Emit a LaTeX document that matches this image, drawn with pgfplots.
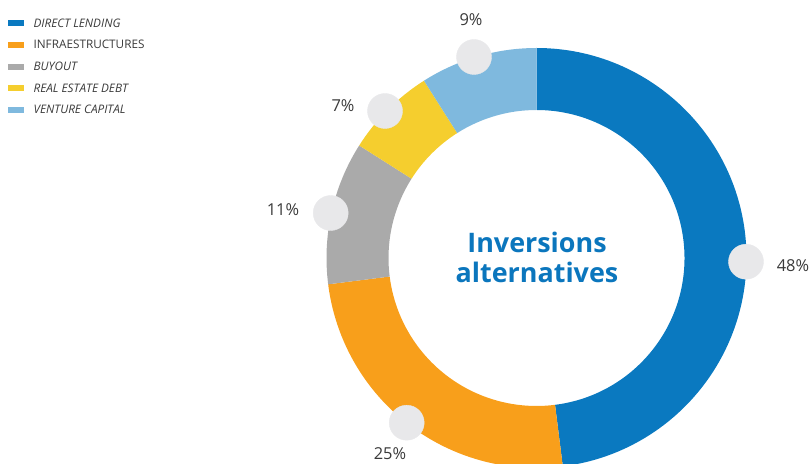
\documentclass[border=0pt]{standalone}
\usepackage{pgfplots}
\pgfplotsset{compat=1.18}
\usetikzlibrary{calc}
\usepackage{fontspec}
\setmainfont{Open Sans}

\definecolor{cDL}{HTML}{0A79C0}
\definecolor{cIN}{HTML}{F89F1B}
\definecolor{cBO}{HTML}{AAAAAA}
\definecolor{cRE}{HTML}{F5CE2E}
\definecolor{cVC}{HTML}{7FB9DE}
\definecolor{dotgray}{HTML}{E8E8EA}
\definecolor{titleblue}{HTML}{0B76BD}
\definecolor{labgray}{HTML}{3A3A3A}

\begin{document}
\begin{tikzpicture}
\useasboundingbox (0,0) rectangle (811bp,464bp);
\clip (0,0) rectangle (811bp,464bp);
\begin{axis}[
    at={(0,0)}, anchor=south west,
    width=811bp, height=464bp, scale only axis,
    xmin=0, xmax=811, ymin=0, ymax=464,
    hide axis, clip=false,
    legend style={at={(axis cs:8,445.5)}, anchor=north west, draw=none, fill=none,
        inner sep=0pt, row sep=13.2bp, text=labgray,
        font=\fontsize{11.8}{13}\selectfont,
        nodes={inner sep=0pt, text height=8.5bp, text depth=0bp},
        /tikz/every odd column/.append style={column sep=10bp}},
    legend cell align=left,
    legend image code/.code={\fill[#1] (0bp,-2.6bp) rectangle (15bp,2.6bp);},
]
% donut, clockwise from the top
\pgfplotsextra{
  \coordinate (c) at (axis cs:536.5,206);
  \gdef\angstart{90}
  \foreach \v/\col in {48/cDL,25/cIN,11/cBO,7/cRE,9/cVC}{
    \pgfmathsetmacro\angend{\angstart-3.6*\v}
    \fill[\col] ($(c)+(\angstart:210bp)$) arc[start angle=\angstart,end angle=\angend,radius=210bp]
      -- ($(c)+(\angend:148bp)$) arc[start angle=\angend,end angle=\angstart,radius=148bp] -- cycle;
    \global\let\angstart\angend
  }
}
% grey dots on the ring
\addplot[only marks, mark=*, mark size=17.5bp, forget plot, color=dotgray,
         mark options={draw=dotgray, fill=dotgray}]
  coordinates {(746,202.3) (474,407) (385,353) (330.7,251) (406.7,41.3)};

\addlegendimage{cDL}
\addlegendimage{cIN}
\addlegendimage{cBO}
\addlegendimage{cRE}
\addlegendimage{cVC}
\legend{\itshape DIRECT LENDING, INFRAESTRUCTURES, \itshape BUYOUT,
        \itshape REAL ESTATE DEBT, \itshape VENTURE CAPITAL}

\node[font=\fontsize{16.5}{18}\selectfont, text=labgray] at (axis cs:793,198) {48\%};
\node[font=\fontsize{16.5}{18}\selectfont, text=labgray] at (axis cs:471,444) {9\%};
\node[font=\fontsize{16.5}{18}\selectfont, text=labgray] at (axis cs:343,358) {7\%};
\node[font=\fontsize{16.5}{18}\selectfont, text=labgray] at (axis cs:283,254) {11\%};
\node[font=\fontsize{16.5}{18}\selectfont, text=labgray] at (axis cs:390,10) {25\%};

\node[font=\fontsize{27}{30}\selectfont\bfseries, text=titleblue, align=center]
  at (axis cs:537,207) {Inversions\\alternatives};
\end{axis}
\end{tikzpicture}
\end{document}
